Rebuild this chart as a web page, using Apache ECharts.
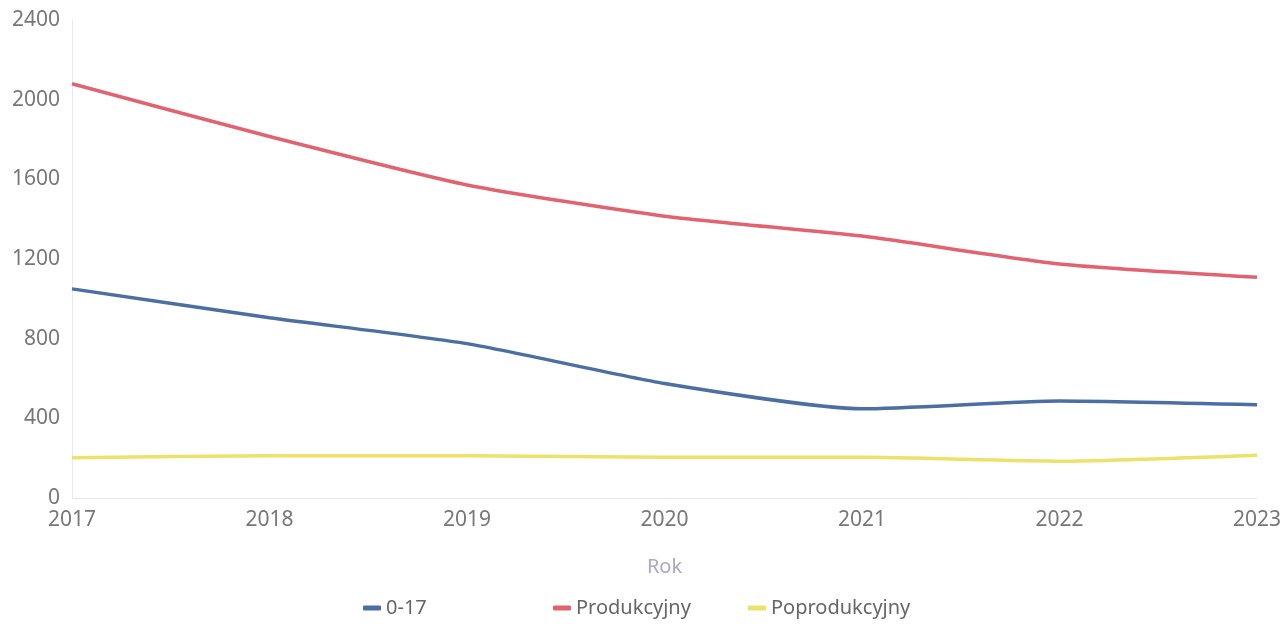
<!DOCTYPE html>
<html>
<head>
<meta charset="utf-8">
<script src="https://cdn.jsdelivr.net/npm/echarts@6/dist/echarts.min.js"></script>
<style>
  html, body { margin: 0; padding: 0; background: #fff; }
  #chart { width: 1286px; height: 627px; }
</style>
</head>
<body>
<div id="chart"></div>
<script>
const years = ['2017', '2018', '2019', '2020', '2021', '2022', '2023']
const seriesNames = ['0-17', 'Produkcyjny', 'Poprodukcyjny']
const dzieci = [1050, 905, 775, 575, 448, 487, 468]
const produkcyjny = [2080, 1815, 1572, 1415, 1315, 1175, 1108]
const poprodukcyjny = [202, 212, 212, 204, 204, 185, 215]

const legendLeft = [358, 548, 743]
// one legend per item, the source spaces them unevenly
const legends = seriesNames.map((name, i) => ({
  bottom: 4,
  left: legendLeft[i],
  icon: 'roundRect',
  itemWidth: 18,
  itemHeight: 5,
  textStyle: {
    fontSize: 20,
    color: '#666'
  },
  data: [name]
}))

const myChart = echarts.init(document.getElementById('chart'))
const chartOption = {
  animation: false,
  textStyle: { fontFamily: 'Noto Sans' },
  grid: {
    left: 72,
    right: 29,
    top: 20,
    bottom: 129
  },
  legend: legends,
  xAxis: {
    type: 'category',
    data: years,
    boundaryGap: false,
    name: 'Rok',
    nameLocation: 'middle',
    nameGap: 59,
    nameTextStyle: {
      fontSize: 20,
      color: '#a9a8c6'
    },
    axisLine: {
      lineStyle: { color: '#e3e6ee' }
    },
    axisTick: { show: false },
    axisLabel: {
      fontSize: 21,
      color: '#777',
      margin: 12
    }
  },
  yAxis: {
    type: 'value',
    min: 0,
    max: 2400,
    interval: 400,
    axisLine: {
      show: true,
      lineStyle: { color: '#e6e8f4' }
    },
    axisTick: { show: false },
    splitLine: { show: false },
    axisLabel: {
      fontSize: 21,
      color: '#777',
      margin: 12,
      formatter: function (value) {
        return String(value)
      }
    }
  },
  series: [
    {
      name: seriesNames[0],
      type: 'line',
      smooth: 0.2,
      showSymbol: false,
      color: '#4b6ea3',
      lineStyle: { width: 3.5 },
      data: dzieci
    },
    {
      name: seriesNames[1],
      type: 'line',
      smooth: 0.2,
      showSymbol: false,
      color: '#e2636f',
      lineStyle: { width: 3.5 },
      data: produkcyjny
    },
    {
      name: seriesNames[2],
      type: 'line',
      smooth: 0.2,
      showSymbol: false,
      color: '#ece26a',
      lineStyle: { width: 3.5 },
      data: poprodukcyjny
    }
  ]
}
myChart.setOption(chartOption)
</script>
</body>
</html>
